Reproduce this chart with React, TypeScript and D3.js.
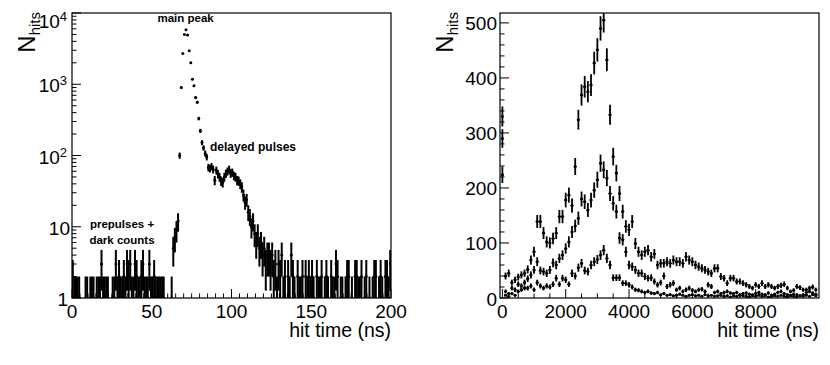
import React, { useRef, useEffect } from "react";
import { select, scaleLinear, scaleLog } from "d3";

// left: hits per 1 ns bin, 0..199 ns
const hitCounts = [
  2, 1, 1, 1, 1, 0, 0, 0, 1, 1,
  0, 1, 1, 1, 0, 1, 1, 1, 3, 1,
  1, 1, 1, 0, 0, 1, 1, 3, 1, 2,
  1, 1, 2, 1, 3, 2, 3, 1, 1, 3,
  2, 1, 1, 2, 3, 1, 1, 1, 3, 1,
  1, 2, 1, 1, 1, 1, 1, 1, 0, 0,
  0, 0, 1, 5, 7, 9, 12, 100, 900, 2700,
  5000, 5800, 4900, 2950, 2000, 1180, 950, 650, 560, 330,
  222, 152, 128, 107, 95, 68, 66, 70, 64, 45,
  62, 55, 50, 44, 42, 50, 56, 60, 64, 56,
  58, 52, 50, 45, 44, 40, 36, 28, 22, 24,
  16, 14, 10, 12, 8, 6, 8, 5, 6, 4,
  5, 3, 4, 4, 3, 4, 2, 3, 1, 3,
  2, 4, 1, 2, 0, 2, 1, 4, 2, 1,
  0, 2, 1, 1, 2, 0, 2, 1, 2, 1,
  2, 1, 0, 2, 1, 1, 2, 0, 1, 2,
  1, 0, 2, 1, 1, 3, 2, 0, 1, 1,
  0, 1, 2, 2, 0, 1, 0, 2, 2, 1,
  1, 2, 0, 1, 2, 0, 1, 0, 1, 2,
  2, 0, 1, 2, 1, 0, 2, 2, 1, 3,
];

// right: three runs, 100 ns bins starting at 0 ns
const runHigh = [
  330, 40, 45, 28, 33, 38, 42, 45, 52, 69,
  84, 139, 139, 118, 102, 100, 108, 118, 148, 148,
  178, 187, 168, 239, 324, 369, 384, 375, 387, 427,
  451, 490, 505, 433, 333, 257, 227, 190, 157, 130,
  124, 139, 99, 84, 78, 84, 87, 75, 80, 60,
  63, 63, 66, 63, 69, 66, 66, 63, 75, 69,
  66, 60, 57, 54, 51, 48, 45, 54, 54, 39,
  36, 27, 36, 36, 30, 30, 27, 24, 21, 18,
  24, 21, 27, 21, 24, 21, 18, 21, 23, 25,
  18, 12, 14, 21, 19, 15, 15, 18, 20, 15,
];
const runMid = [
  290, 12, 8, 18, 15, 25, 22, 28, 35, 42,
  51, 66, 50, 48, 45, 51, 64, 60, 72, 78,
  90, 102, 120, 131, 145, 180, 175, 160, 178, 196,
  215, 245, 233, 218, 190, 172, 157, 109, 106, 84,
  60, 57, 51, 45, 45, 39, 36, 37, 30, 24,
  28, 40, 21, 24, 27, 15, 18, 12, 15, 18,
  14, 12, 15, 16, 12, 24, 21, 10, 12, 8,
  10, 12, 9, 8, 10, 6, 8, 9, 7, 6,
  8, 10, 7, 6, 9, 5, 7, 10, 12, 8,
  6, 5, 7, 6, 4, 6, 10, 12, 9, 7,
];
const runLow = [
  224, 5, 3, 8, 5, 12, 15, 18, 18, 22,
  15, 28, 22, 18, 22, 20, 25, 36, 25, 36,
  33, 25, 45, 40, 55, 63, 50, 48, 60, 66,
  70, 78, 87, 72, 60, 37, 37, 37, 27, 27,
  24, 20, 15, 14, 12, 10, 12, 9, 8, 10,
  6, 8, 5, 6, 4, 5, 7, 5, 3, 5,
  6, 4, 5, 3, 6, 4, 5, 3, 4, 5,
  3, 4, 2, 4, 3, 5, 4, 3, 2, 4,
  3, 5, 3, 4, 2, 3, 4, 3, 5, 3,
  2, 4, 3, 2, 4, 3, 5, 3, 6, 4,
];

const leftXTicks = [0, 50, 100, 150, 200];
const leftYDecades = [0, 1, 2, 3, 4];
const rightXTicks = [0, 2000, 4000, 6000, 8000];
const rightYTicks = [0, 100, 200, 300, 400, 500];

const FONT = "'Liberation Sans', Arial, Helvetica, sans-serif";

export default function App() {
  const svgRef = useRef(null);

  useEffect(() => {
    draw();
  }, []);

  const drawPoints = (g, counts, xOf, y, halfBin, bottom, barWidth) => {
    const pts = counts.map((n, i) => ({ n, i })).filter((d) => d.n > 0);
    g.selectAll(".ev")
      .data(pts)
      .join("line")
      .attr("class", "ev")
      .attr("x1", (d) => xOf(d.i))
      .attr("x2", (d) => xOf(d.i))
      .attr("y1", (d) => {
        let lo = d.n - Math.sqrt(d.n);
        return lo > 0 ? y(lo) : bottom + 3;
      })
      .attr("y2", (d) => y(d.n + Math.sqrt(d.n)))
      .attr("stroke", "#000")
      .attr("stroke-width", barWidth);
    g.selectAll(".eh")
      .data(pts)
      .join("line")
      .attr("class", "eh")
      .attr("x1", (d) => xOf(d.i) - halfBin)
      .attr("x2", (d) => xOf(d.i) + halfBin)
      .attr("y1", (d) => y(d.n))
      .attr("y2", (d) => y(d.n))
      .attr("stroke", "#000")
      .attr("stroke-width", 1);
    g.selectAll("circle")
      .data(pts)
      .join("circle")
      .attr("cx", (d) => xOf(d.i))
      .attr("cy", (d) => y(d.n))
      .attr("r", 1.5)
      .attr("fill", "#000");
  };

  const tick = (g, x1, y1, x2, y2) => {
    g.append("line")
      .attr("x1", x1)
      .attr("y1", y1)
      .attr("x2", x2)
      .attr("y2", y2)
      .attr("stroke", "#000")
      .attr("stroke-width", 1);
  };

  const nHits = (svg, x) => {
    let t = svg
      .append("text")
      .attr("transform", `translate(${x},12) rotate(-90)`)
      .attr("text-anchor", "end")
      .attr("font-family", FONT);
    t.append("tspan").attr("font-size", 24).text("N");
    t.append("tspan").attr("font-size", 15).attr("dy", 5).text("hits");
  };

  const draw = () => {
    const svg = select(svgRef.current);
    svg.selectAll("*").remove();

    // ---------- left panel ----------
    const L = { left: 72, right: 391, top: 13, bottom: 298 };
    const xL = scaleLinear().domain([0, 200]).range([L.left, L.right]);
    const yL = scaleLog().domain([1, 1e4]).range([L.bottom, L.top]);

    svg.append("clipPath").attr("id", "clipL").append("rect")
      .attr("x", L.left).attr("y", L.top)
      .attr("width", L.right - L.left).attr("height", L.bottom - L.top);

    const gl = svg.append("g").attr("clip-path", "url(#clipL)");
    drawPoints(gl, hitCounts, (i) => xL(i + 0.5), yL, (xL(1) - xL(0)) / 2, L.bottom, 2);

    const axL = svg.append("g");
    for (let v = 0; v <= 200; v += 5) {
      let len = v % 50 === 0 ? 9 : 4.5;
      tick(axL, xL(v), L.bottom, xL(v), L.bottom - len);
    }
    leftYDecades.forEach((d) => {
      tick(axL, L.left, yL(10 ** d), L.left + 9, yL(10 ** d));
      if (d < 4) {
        for (let m = 2; m <= 9; m++) {
          let yy = yL(m * 10 ** d);
          tick(axL, L.left, yy, L.left + 4.5, yy);
        }
      }
    });
    axL.append("rect")
      .attr("x", L.left).attr("y", L.top)
      .attr("width", L.right - L.left).attr("height", L.bottom - L.top)
      .attr("fill", "none").attr("stroke", "#000").attr("stroke-width", 1.2);

    leftXTicks.forEach((v) => {
      svg.append("text")
        .attr("x", xL(v)).attr("y", 318)
        .attr("text-anchor", "middle")
        .attr("font-family", FONT).attr("font-size", 19)
        .text(v);
    });
    leftYDecades.forEach((d) => {
      let base = d === 4 ? yL(1e4) + 15 : yL(10 ** d) + 8;
      let t = svg.append("text")
        .attr("text-anchor", "end")
        .attr("font-family", FONT).attr("font-size", 19)
        .attr("y", base);
      if (d === 0) {
        t.attr("x", 68).text("1");
      } else if (d === 1) {
        t.attr("x", 70).text("10");
      } else {
        t.attr("x", 67);
        t.append("tspan").text("10");
        t.append("tspan").attr("font-size", 13).attr("dy", -7).text(d);
      }
    });

    svg.append("text")
      .attr("x", L.right).attr("y", 337)
      .attr("text-anchor", "end")
      .attr("font-family", FONT).attr("font-size", 19.5)
      .text("hit time (ns)");
    nHits(svg, 35);

    const note = (txt, x, y, anchor, size) => {
      svg.append("text")
        .attr("x", x).attr("y", y)
        .attr("text-anchor", anchor)
        .attr("font-family", FONT).attr("font-size", size)
        .attr("font-weight", "bold")
        .text(txt);
    };
    note("main peak", 157.5, 22, "start", 11.5);
    note("delayed pulses", 210, 151, "start", 12);
    note("prepulses +", 122, 228, "middle", 11.5);
    note("dark counts", 122, 244, "middle", 11.5);

    // ---------- right panel ----------
    const R = { left: 500, right: 819, top: 13, bottom: 298 };
    const xR = scaleLinear().domain([-75, 10000]).range([R.left, R.right]);
    const yR = scaleLinear().domain([0, 518]).range([R.bottom, R.top]);

    svg.append("clipPath").attr("id", "clipR").append("rect")
      .attr("x", R.left).attr("y", R.top)
      .attr("width", R.right - R.left).attr("height", R.bottom - R.top);

    const half = (xR(100) - xR(0)) / 2;
    [runHigh, runMid, runLow].forEach((run) => {
      const g = svg.append("g").attr("clip-path", "url(#clipR)");
      drawPoints(g, run, (i) => xR(i * 100), yR, half, R.bottom, 1.8);
    });

    const axR = svg.append("g");
    for (let v = 0; v < 10000; v += 500) {
      let len = v % 2000 === 0 ? 9 : 4.5;
      tick(axR, xR(v), R.bottom, xR(v), R.bottom - len);
    }
    for (let v = 0; v <= 518; v += 20) {
      let len = v % 100 === 0 ? 9 : 4.5;
      tick(axR, R.left, yR(v), R.left + len, yR(v));
    }
    axR.append("rect")
      .attr("x", R.left).attr("y", R.top)
      .attr("width", R.right - R.left).attr("height", R.bottom - R.top)
      .attr("fill", "none").attr("stroke", "#000").attr("stroke-width", 1.2);

    rightXTicks.forEach((v) => {
      svg.append("text")
        .attr("x", xR(v)).attr("y", 318)
        .attr("text-anchor", "middle")
        .attr("font-family", FONT).attr("font-size", 19)
        .text(v);
    });
    rightYTicks.forEach((v) => {
      svg.append("text")
        .attr("x", 497).attr("y", yR(v) + 7.5)
        .attr("text-anchor", "end")
        .attr("font-family", FONT).attr("font-size", 19)
        .text(v);
    });
    svg.append("text")
      .attr("x", R.right).attr("y", 337)
      .attr("text-anchor", "end")
      .attr("font-family", FONT).attr("font-size", 19.5)
      .text("hit time (ns)");
    nHits(svg, 453);
  };

  return (
    <svg
      ref={svgRef}
      width={830}
      height={365}
      style={{ position: "absolute", left: 0, top: 0, background: "#fff" }}
    />
  );
}
